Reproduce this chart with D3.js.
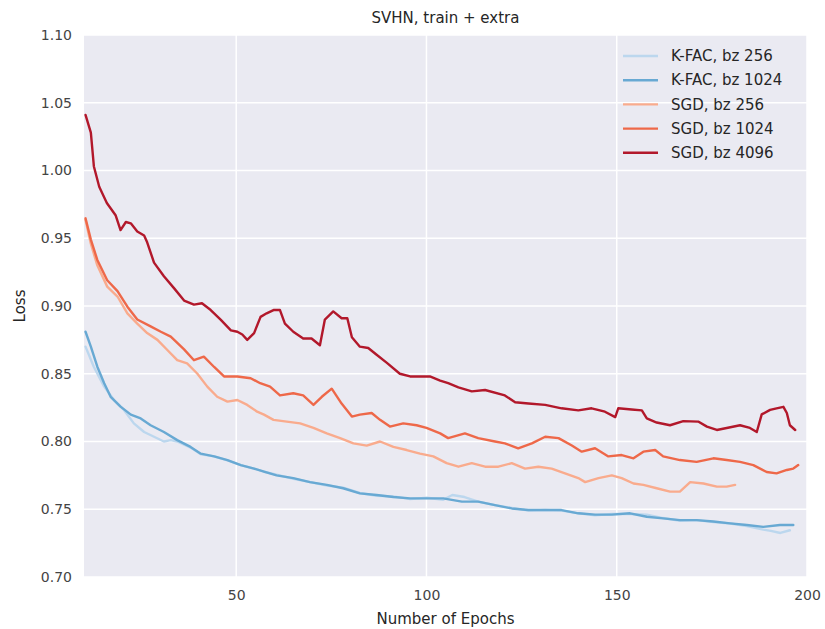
<!DOCTYPE html>
<html><head><meta charset="utf-8">
<script src="https://cdn.jsdelivr.net/npm/d3@7"></script>
<style>body{margin:0;background:#fff;}svg{display:block;font-family:"DejaVu Sans",sans-serif;}</style>
</head><body>
<svg id="c" width="825" height="629"></svg>
<script>
const xTicks = [50, 100, 150, 200];
const yTicks = [0.70, 0.75, 0.80, 0.85, 0.90, 0.95, 1.00, 1.05, 1.10];
const seriesNames = ["K-FAC, bz 256", "K-FAC, bz 1024", "SGD, bz 256", "SGD, bz 1024", "SGD, bz 4096"];
const seriesColors = ["#bcd7ee", "#68a9d3", "#f9ab8d", "#ee6849", "#b2182b"];

const kfac256 = [[10.4,0.870],[12.6,0.855],[15.3,0.8405],[17.9,0.8306],[20.5,0.8233],[23.1,0.8134],[25.8,0.807],[28.4,0.8035],[31,0.800],[32.8,0.801],[34.5,0.800],[38,0.7955],[40.7,0.7905],[44.2,0.789],[47.7,0.786],[51.2,0.7826],[54.7,0.780],[57.3,0.7777],[60.6,0.7755],[65,0.7725],[69.4,0.770],[73.8,0.7675],[78.1,0.766],[82.5,0.762],[86.9,0.760],[91.3,0.7595],[95.7,0.7575],[100.1,0.7585],[104.4,0.757],[106.8,0.7605],[110,0.759],[113.6,0.7556],[118,0.753],[122.4,0.751],[126.8,0.749],[131.2,0.7494],[135.5,0.749],[139.9,0.747],[144.3,0.7455],[148.7,0.7465],[153.5,0.7465],[157.9,0.746],[162.2,0.7435],[166.6,0.7415],[171,0.742],[175.4,0.7405],[179.8,0.7395],[184.2,0.7375],[188.5,0.735],[190.5,0.734],[193,0.7325],[195.5,0.7345]];
const kfac1024 = [[10.4,0.881],[11.8,0.870],[13.5,0.8552],[15.3,0.843],[17,0.833],[19.6,0.8257],[22.3,0.8198],[24.9,0.817],[27.5,0.812],[31,0.807],[34.5,0.801],[38,0.796],[40.7,0.791],[44.2,0.789],[47.7,0.7863],[51.2,0.7826],[54.7,0.780],[57.3,0.7777],[60.6,0.775],[65,0.773],[69.4,0.770],[73.8,0.768],[78.1,0.7655],[82.5,0.7617],[86.9,0.7605],[91.3,0.759],[95.7,0.758],[100.1,0.758],[104.4,0.758],[109.3,0.7556],[113.6,0.7556],[118,0.753],[122.4,0.7506],[126.8,0.7494],[131.2,0.7494],[135.5,0.7494],[139.9,0.747],[144.3,0.746],[148.7,0.746],[153.5,0.747],[157.9,0.7445],[162.2,0.7433],[166.6,0.742],[171,0.742],[175.4,0.741],[179.8,0.7396],[184.2,0.7384],[188.5,0.737],[192.9,0.7384],[196.4,0.7384]];
const sgd256 = [[10.4,0.9635],[11.8,0.946],[13.5,0.930],[16.1,0.9143],[18.8,0.907],[21.4,0.8946],[24,0.887],[26.6,0.880],[29.3,0.875],[31.9,0.8675],[34.5,0.860],[37.1,0.8577],[39.8,0.850],[42.4,0.8405],[45,0.833],[47.7,0.8294],[50.3,0.8306],[52.9,0.827],[55.5,0.822],[57.3,0.8198],[59.8,0.816],[63.3,0.8147],[66.8,0.8134],[70.3,0.810],[73.8,0.806],[77.3,0.8025],[80.8,0.7986],[84.3,0.797],[87.8,0.800],[91.3,0.796],[94.8,0.7937],[98.3,0.791],[101.8,0.789],[105.3,0.784],[108.4,0.7814],[111.9,0.784],[115.4,0.7814],[118.9,0.7814],[122.4,0.784],[125.9,0.780],[129.4,0.7814],[132.9,0.780],[136.4,0.7765],[139.9,0.773],[141.7,0.770],[145.2,0.773],[148.7,0.775],[151.3,0.773],[154.4,0.769],[157,0.768],[160.5,0.7655],[164,0.763],[166.6,0.763],[169.3,0.770],[172.8,0.769],[176.3,0.7667],[178.9,0.7667],[181.1,0.768]];
const sgd1024 = [[10.4,0.9647],[11.8,0.949],[13.5,0.934],[16.1,0.919],[18.8,0.911],[21.4,0.8995],[24,0.890],[27.5,0.885],[30.2,0.881],[32.8,0.8774],[36.3,0.868],[38.9,0.860],[41.5,0.8626],[44.2,0.855],[46.8,0.848],[50.3,0.848],[53.8,0.8467],[56.3,0.843],[58.9,0.8405],[61.5,0.834],[65,0.8356],[67.6,0.834],[70.3,0.827],[72.5,0.833],[75.1,0.839],[77.7,0.828],[80.4,0.8184],[82.5,0.8198],[85.6,0.821],[87.8,0.816],[90.4,0.811],[93.9,0.8134],[97.4,0.812],[100,0.810],[103.6,0.806],[105.7,0.8025],[110.1,0.806],[113.6,0.8025],[118,0.800],[120.6,0.7986],[124.1,0.795],[127.7,0.7986],[131.2,0.8035],[134.7,0.8025],[138.2,0.797],[140.8,0.7925],[144.3,0.795],[147.8,0.789],[151.3,0.790],[154.4,0.7876],[157,0.7925],[160.1,0.7937],[162.2,0.789],[166.6,0.7863],[171,0.785],[175.4,0.7876],[178.9,0.7863],[182.4,0.785],[185.9,0.7826],[189.4,0.7775],[192,0.7765],[194.7,0.779],[196.4,0.780],[197.7,0.7826]];
const sgd4096 = [[10.4,1.041],[11.8,1.028],[12.6,1.003],[14,0.988],[16,0.976],[18.3,0.967],[19.6,0.956],[21,0.962],[22.3,0.961],[24,0.955],[25.8,0.952],[26.6,0.947],[28.4,0.932],[31,0.922],[33.7,0.913],[36.3,0.904],[38.9,0.901],[41,0.902],[43.3,0.897],[45.9,0.890],[48.6,0.882],[50.3,0.881],[51.6,0.879],[52.9,0.875],[54.7,0.880],[56.4,0.892],[58,0.8946],[59.8,0.897],[61.5,0.897],[62.8,0.887],[65,0.881],[67.6,0.876],[69.8,0.876],[72,0.871],[73.3,0.890],[75.5,0.896],[77.7,0.891],[79.2,0.891],[80.4,0.877],[82.5,0.870],[84.7,0.869],[86.9,0.864],[89.6,0.858],[93,0.850],[95.7,0.848],[98.3,0.848],[100.9,0.848],[103.6,0.845],[105.7,0.843],[108.4,0.840],[111.9,0.837],[115.4,0.838],[120.6,0.834],[123.3,0.829],[126.8,0.828],[131.2,0.827],[135.5,0.8245],[139.9,0.823],[143.4,0.8245],[146.9,0.822],[149.6,0.818],[150.4,0.8245],[153.9,0.8236],[156.6,0.823],[157.9,0.817],[160.5,0.814],[164,0.812],[167.5,0.815],[171.4,0.8147],[173.7,0.811],[176.3,0.8085],[178.9,0.810],[182.4,0.812],[185,0.810],[186.8,0.807],[188.1,0.820],[190.3,0.8233],[192,0.8245],[193.8,0.8256],[194.7,0.821],[195.5,0.812],[196.9,0.8085]];
const seriesData = [kfac256, kfac1024, sgd256, sgd1024, sgd4096];

const svg = d3.select("#c");
const L = 84, R = 807, T = 35, B = 577;
const x = d3.scaleLinear().domain([10, 200]).range([L, R]);
const y = d3.scaleLinear().domain([0.70, 1.10]).range([B, T]);

svg.append("rect").attr("x", L).attr("y", T).attr("width", R - L).attr("height", B - T).attr("fill", "#eaeaf2");

// grid
svg.append("g").selectAll("line").data(yTicks).join("line")
  .attr("x1", L).attr("x2", R).attr("y1", d => y(d)).attr("y2", d => y(d))
  .attr("stroke", "#fff").attr("stroke-width", 1.5);
svg.append("g").selectAll("line").data(xTicks).join("line")
  .attr("y1", T).attr("y2", B).attr("x1", d => x(d)).attr("x2", d => x(d))
  .attr("stroke", "#fff").attr("stroke-width", 1.5);

// axes (tick labels only)
const xAxis = svg.append("g").attr("transform", `translate(0,${B})`)
  .call(d3.axisBottom(x).tickValues(xTicks).tickSize(0).tickPadding(13).tickFormat(d3.format("d")));
const yAxis = svg.append("g").attr("transform", `translate(${L},0)`)
  .call(d3.axisLeft(y).tickValues(yTicks).tickSize(0).tickPadding(12).tickFormat(d3.format(".2f")));
[xAxis, yAxis].forEach(a => {
  a.select(".domain").remove();
  a.selectAll("text").attr("font-size", 14).attr("fill", "#444").attr("font-family", "DejaVu Sans, sans-serif");
});

// lines
const line = d3.line().x(d => x(d[0])).y(d => y(d[1]));
seriesData.forEach((s, i) => {
  svg.append("path").datum(s).attr("d", line).attr("fill", "none")
    .attr("stroke", seriesColors[i]).attr("stroke-width", 2.4)
    .attr("stroke-linejoin", "round").attr("stroke-linecap", "round");
});

// title & labels
svg.append("text").attr("x", (L + R) / 2).attr("y", 23).attr("text-anchor", "middle")
  .attr("font-size", 15).attr("fill", "#262626").text("SVHN, train + extra");
svg.append("text").attr("x", (L + R) / 2).attr("y", 624).attr("text-anchor", "middle")
  .attr("font-size", 15).attr("fill", "#262626").text("Number of Epochs");
svg.append("text").attr("transform", `translate(25,${(T + B) / 2}) rotate(-90)`).attr("text-anchor", "middle")
  .attr("font-size", 15).attr("fill", "#262626").text("Loss");

// legend
const lg = svg.append("g");
seriesNames.forEach((n, i) => {
  const yy = 56 + i * 24.2;
  lg.append("line").attr("x1", 623).attr("x2", 658).attr("y1", yy).attr("y2", yy)
    .attr("stroke", seriesColors[i]).attr("stroke-width", 2.4);
  lg.append("text").attr("x", 671).attr("y", yy).attr("dy", "0.35em")
    .attr("font-size", 15).attr("fill", "#262626").text(n);
});
</script>
</body></html>
